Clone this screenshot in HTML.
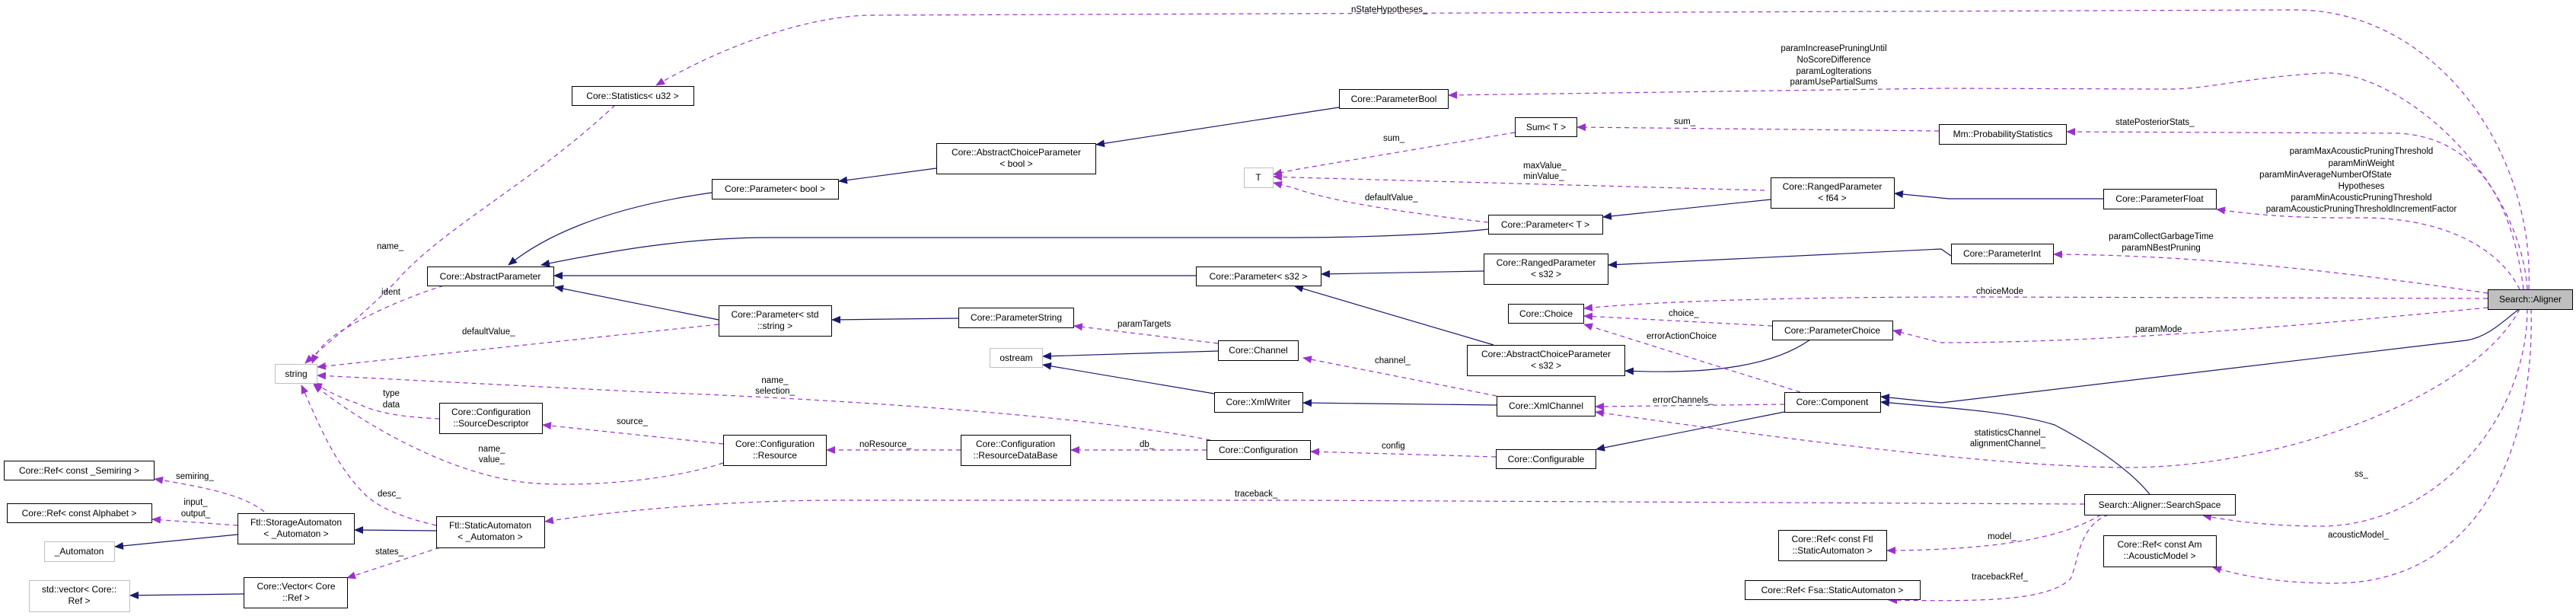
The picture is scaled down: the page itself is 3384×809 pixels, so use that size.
<!DOCTYPE html>
<html><head><meta charset="utf-8"><style>
html,body{margin:0;padding:0;background:#fff;}
svg{display:block;}
text{font-family:"Liberation Sans",Helvetica,Arial,sans-serif;font-size:12px;fill:#000;}
.n{fill:#fff;stroke:#000;stroke-width:1;}
.g{fill:#fff;stroke:#bfbfbf;stroke-width:1;}
.b{fill:none;stroke:#191970;stroke-width:1.2;marker-end:url(#ab);}
.p{fill:none;stroke:#9a32cd;stroke-width:1.2;stroke-dasharray:6,5;marker-end:url(#ap);}
.l{font-size:11.5px;}
</style></head><body>
<svg width="3384" height="809" viewBox="0 0 3384 809" xmlns="http://www.w3.org/2000/svg">
<defs>
<marker id="ab" markerWidth="12" markerHeight="10" refX="11" refY="5" orient="auto" markerUnits="userSpaceOnUse"><path d="M0,0 L12,5 L0,10 z" fill="#191970"/></marker>
<marker id="ap" markerWidth="12" markerHeight="10" refX="11" refY="5" orient="auto" markerUnits="userSpaceOnUse"><path d="M0,0 L12,5 L0,10 z" fill="#9a32cd"/></marker>
</defs>

<!-- blue edges -->
<path class="b" d="M935,253 C850,265 740,290 668,348"/>
<path class="b" d="M1955,301 C1900,307 1800,312 1700,312 L1010,312 C900,312 800,330 711,348"/>
<path class="b" d="M1571,362 L728,362"/>
<path class="b" d="M944,420 L729,377"/>
<path class="b" d="M1230,221 L1102,238"/>
<path class="b" d="M1759,141 L1440,190"/>
<path class="b" d="M2326,262 L2106,285"/>
<path class="b" d="M2763,261 L2560,261 L2489,254"/>
<path class="b" d="M1949,356 L1736,360"/>
<path class="b" d="M2563,336 L2550,327 L2113,348"/>
<path class="b" d="M1962,453 L1701,376"/>
<path class="b" d="M2378,446 C2330,480 2250,492 2135,487"/>
<path class="b" d="M1259,418 L1093,420"/>
<path class="b" d="M1600,461 L1370,468"/>
<path class="b" d="M1595,517 L1370,479"/>
<path class="b" d="M1966,532 L1712,529"/>
<path class="b" d="M2344,541 L2097,590"/>
<path class="b" d="M3308,407 C3290,420 3270,442 3240,447 L2550,529 L2471,521"/>
<path class="b" d="M2824,649 C2800,620 2760,590 2699,558 C2640,540 2560,536 2471,528"/>
<path class="b" d="M312,702 L151,718"/>
<path class="b" d="M573,697 L466,696"/>
<path class="b" d="M320,780 L171,782"/>

<!-- purple edges -->
<path class="p" d="M3322,380 C3330,200 3200,10 3010,13 L1140,20 C1060,22 950,60 862,112"/>
<path class="p" d="M3320,380 C3310,230 3150,90 3050,96 C2950,102 2900,117 2850,117 L2550,116 L1903,125"/>
<path class="p" d="M3315,380 C3300,260 3250,180 3150,175 L2715,173"/>
<path class="p" d="M3310,380 C3280,320 3200,285 3100,286 C3000,287 2950,280 2912,275"/>
<path class="p" d="M3268,385 C3100,360 2900,335 2698,334"/>
<path class="p" d="M3268,392 L2600,390 C2300,390 2150,398 2081,405"/>
<path class="p" d="M3268,404 C3100,420 2800,450 2550,450 L2487,434"/>
<path class="p" d="M3310,406 C3250,520 3000,615 2790,614 C2600,612 2300,570 2096,541"/>
<path class="p" d="M3320,406 C3320,550 3200,690 3050,691 C2980,691 2930,684 2894,677"/>
<path class="p" d="M3325,406 C3330,600 3250,766 3066,766 C2990,766 2940,755 2907,745"/>
<path class="p" d="M2365,515 L2081,426"/>
<path class="p" d="M2328,428 L2081,415"/>
<path class="p" d="M2344,531 L2096,534"/>
<path class="p" d="M1966,520 L1712,470"/>
<path class="p" d="M1965,600 L1722,593"/>
<path class="p" d="M1585,591 L1407,591"/>
<path class="p" d="M1262,591 L1086,591"/>
<path class="p" d="M950,583 L713,558"/>
<path class="p" d="M950,608 C900,625 800,640 705,635 C600,628 480,560 412,505"/>
<path class="p" d="M1590,578 C1400,540 1000,520 850,515 L417,493"/>
<path class="p" d="M944,426 L417,482"/>
<path class="p" d="M577,550 C540,548 500,545 470,530 C440,520 425,510 412,503"/>
<path class="p" d="M573,690 C530,680 500,668 480,650 C440,610 420,560 396,506"/>
<path class="p" d="M583,375 C520,395 470,420 440,440 C420,455 415,465 410,477"/>
<path class="p" d="M808,138 C700,240 580,300 520,370 C470,420 430,450 401,477"/>
<path class="p" d="M347,672 C320,650 270,640 203,629"/>
<path class="p" d="M312,690 L200,682"/>
<path class="p" d="M578,719 L456,759"/>
<path class="p" d="M2738,662 L1700,657 L1100,657 C950,657 800,672 716,685"/>
<path class="p" d="M2760,676 C2720,700 2650,722 2479,723"/>
<path class="p" d="M2770,676 C2730,690 2730,740 2720,760 C2690,790 2600,790 2481,788"/>
<path class="p" d="M1600,451 L1411,428"/>
<path class="p" d="M2318,250 L1700,233 L1673,232"/>
<path class="p" d="M1990,174 L1700,223 L1673,229"/>
<path class="p" d="M1955,292 C1850,280 1750,265 1700,247 L1673,240"/>
<path class="p" d="M2547,172 L2072,167"/>

<!-- edge labels -->
<g class="lbl">
<text class="l" x="1775" y="16">nStateHypotheses_</text>
<text class="l" x="2409" y="67" text-anchor="middle">paramIncreasePruningUntil</text>
<text class="l" x="2409" y="82" text-anchor="middle">NoScoreDifference</text>
<text class="l" x="2409" y="97" text-anchor="middle">paramLogIterations</text>
<text class="l" x="2409" y="111" text-anchor="middle">paramUsePartialSums</text>
<text class="l" x="2779" y="164">statePosteriorStats_</text>
<text class="l" x="3102" y="202" text-anchor="middle">paramMaxAcousticPruningThreshold</text>
<text class="l" x="3102" y="218" text-anchor="middle">paramMinWeight</text>
<text class="l" x="3055" y="233" text-anchor="middle">paramMinAverageNumberOfState</text>
<text class="l" x="3102" y="248" text-anchor="middle">Hypotheses</text>
<text class="l" x="3102" y="263" text-anchor="middle">paramMinAcousticPruningThreshold</text>
<text class="l" x="3102" y="278" text-anchor="middle">paramAcousticPruningThresholdIncrementFactor</text>
<text class="l" x="2839" y="314" text-anchor="middle">paramCollectGarbageTime</text>
<text class="l" x="2839" y="329" text-anchor="middle">paramNBestPruning</text>
<text class="l" x="2596" y="386">choiceMode</text>
<text class="l" x="2805" y="436">paramMode</text>
<text class="l" x="2687" y="572" text-anchor="end">statisticsChannel_</text>
<text class="l" x="2687" y="586" text-anchor="end">alignmentChannel_</text>
<text class="l" x="3093" y="626">ss_</text>
<text class="l" x="3058" y="706">acousticModel_</text>
<text class="l" x="2611" y="708">model_</text>
<text class="l" x="2590" y="761">tracebackRef_</text>
<text class="l" x="2199" y="163">sum_</text>
<text class="l" x="1817" y="185">sum_</text>
<text class="l" x="2001" y="221">maxValue_</text>
<text class="l" x="2001" y="235">minValue_</text>
<text class="l" x="1793" y="263">defaultValue_</text>
<text class="l" x="2192" y="415">choice_</text>
<text class="l" x="2163" y="445">errorActionChoice</text>
<text class="l" x="1806" y="477">channel_</text>
<text class="l" x="2171" y="529">errorChannels_</text>
<text class="l" x="1815" y="589">config</text>
<text class="l" x="1468" y="429">paramTargets</text>
<text class="l" x="1018" y="503" text-anchor="middle">name_</text>
<text class="l" x="1018" y="517" text-anchor="middle">selection_</text>
<text class="l" x="1129" y="587">noResource_</text>
<text class="l" x="1497" y="587">db_</text>
<text class="l" x="1622" y="652">traceback_</text>
<text class="l" x="495" y="327">name_</text>
<text class="l" x="501" y="387">ident</text>
<text class="l" x="607" y="439">defaultValue_</text>
<text class="l" x="514" y="520" text-anchor="middle">type</text>
<text class="l" x="514" y="535" text-anchor="middle">data</text>
<text class="l" x="810" y="557">source_</text>
<text class="l" x="646" y="593" text-anchor="middle">name_</text>
<text class="l" x="646" y="607" text-anchor="middle">value_</text>
<text class="l" x="231" y="629">semiring_</text>
<text class="l" x="257" y="663" text-anchor="middle">input_</text>
<text class="l" x="257" y="678" text-anchor="middle">output_</text>
<text class="l" x="496" y="652">desc_</text>
<text class="l" x="493" y="728">states_</text>
</g>

<!-- nodes -->
<g>
<rect class="n" x="751.5" y="113.5" width="160" height="25"/><text x="831" y="130" text-anchor="middle">Core::Statistics&lt; u32 &gt;</text>
<rect class="n" x="1759.5" y="117.5" width="143" height="25"/><text x="1831" y="134" text-anchor="middle">Core::ParameterBool</text>
<rect class="n" x="1230.5" y="188.5" width="209" height="40"/><text x="1335" y="204" text-anchor="middle">Core::AbstractChoiceParameter</text><text x="1335" y="219" text-anchor="middle">&lt; bool &gt;</text>
<rect class="n" x="935.5" y="235.5" width="166" height="26"/><text x="1018" y="252" text-anchor="middle">Core::Parameter&lt; bool &gt;</text>
<rect class="g" x="1634.5" y="220.5" width="38" height="26"/><text x="1653" y="237" text-anchor="middle">T</text>
<rect class="n" x="1990.5" y="154.5" width="81" height="25"/><text x="2031" y="171" text-anchor="middle">Sum&lt; T &gt;</text>
<rect class="n" x="2547.5" y="163.5" width="167" height="26"/><text x="2631" y="180" text-anchor="middle">Mm::ProbabilityStatistics</text>
<rect class="n" x="2326.5" y="233.5" width="162" height="40"/><text x="2407" y="249" text-anchor="middle">Core::RangedParameter</text><text x="2407" y="264" text-anchor="middle">&lt; f64 &gt;</text>
<rect class="n" x="2763.5" y="248.5" width="148" height="26"/><text x="2837" y="265" text-anchor="middle">Core::ParameterFloat</text>
<rect class="n" x="1955.5" y="282.5" width="150" height="25"/><text x="2030" y="299" text-anchor="middle">Core::Parameter&lt; T &gt;</text>
<rect class="n" x="2563.5" y="320.5" width="134" height="26"/><text x="2630" y="337" text-anchor="middle">Core::ParameterInt</text>
<rect class="n" x="561.5" y="350.5" width="166" height="25"/><text x="644" y="367" text-anchor="middle">Core::AbstractParameter</text>
<rect class="n" x="1571.5" y="350.5" width="164" height="25"/><text x="1653" y="367" text-anchor="middle">Core::Parameter&lt; s32 &gt;</text>
<rect class="n" x="1949.5" y="333.5" width="163" height="40"/><text x="2031" y="349" text-anchor="middle">Core::RangedParameter</text><text x="2031" y="364" text-anchor="middle">&lt; s32 &gt;</text>
<rect x="3268.5" y="380.5" width="111" height="26" fill="#bfbfbf" stroke="#000"/><text x="3324" y="397" text-anchor="middle">Search::Aligner</text>
<rect class="n" x="1981.5" y="399.5" width="99" height="25"/><text x="2031" y="416" text-anchor="middle">Core::Choice</text>
<rect class="n" x="2328.5" y="421.5" width="158" height="25"/><text x="2407" y="438" text-anchor="middle">Core::ParameterChoice</text>
<rect class="n" x="944.5" y="401.5" width="148" height="40"/><text x="1018" y="417" text-anchor="middle">Core::Parameter&lt; std</text><text x="1018" y="432" text-anchor="middle">::string &gt;</text>
<rect class="n" x="1259.5" y="404.5" width="151" height="26"/><text x="1335" y="421" text-anchor="middle">Core::ParameterString</text>
<rect class="n" x="1600.5" y="447.5" width="105" height="26"/><text x="1653" y="464" text-anchor="middle">Core::Channel</text>
<rect class="n" x="1927.5" y="453.5" width="207" height="40"/><text x="2031" y="469" text-anchor="middle">Core::AbstractChoiceParameter</text><text x="2031" y="484" text-anchor="middle">&lt; s32 &gt;</text>
<rect class="g" x="1300.5" y="457.5" width="69" height="25"/><text x="1335" y="474" text-anchor="middle">ostream</text>
<rect class="g" x="361.5" y="478.5" width="55" height="25"/><text x="389" y="495" text-anchor="middle">string</text>
<rect class="n" x="1595.5" y="515.5" width="116" height="26"/><text x="1653" y="532" text-anchor="middle">Core::XmlWriter</text>
<rect class="n" x="2344.5" y="515.5" width="126" height="26"/><text x="2407" y="532" text-anchor="middle">Core::Component</text>
<rect class="n" x="1966.5" y="520.5" width="129" height="26"/><text x="2031" y="537" text-anchor="middle">Core::XmlChannel</text>
<rect class="n" x="577.5" y="529.5" width="135" height="40"/><text x="645" y="545" text-anchor="middle">Core::Configuration</text><text x="645" y="560" text-anchor="middle">::SourceDescriptor</text>
<rect class="n" x="950.5" y="571.5" width="135" height="40"/><text x="1018" y="587" text-anchor="middle">Core::Configuration</text><text x="1018" y="602" text-anchor="middle">::Resource</text>
<rect class="n" x="1262.5" y="571.5" width="144" height="40"/><text x="1334" y="587" text-anchor="middle">Core::Configuration</text><text x="1334" y="602" text-anchor="middle">::ResourceDataBase</text>
<rect class="n" x="1585.5" y="578.5" width="136" height="25"/><text x="1653" y="595" text-anchor="middle">Core::Configuration</text>
<rect class="n" x="1965.5" y="590.5" width="131" height="25"/><text x="2031" y="607" text-anchor="middle">Core::Configurable</text>
<rect class="n" x="5.5" y="605.5" width="197" height="25"/><text x="104" y="622" text-anchor="middle">Core::Ref&lt; const _Semiring &gt;</text>
<rect class="n" x="2738.5" y="649.5" width="198" height="27"/><text x="2837" y="667" text-anchor="middle">Search::Aligner::SearchSpace</text>
<rect class="n" x="9.5" y="661.5" width="190" height="25"/><text x="104" y="678" text-anchor="middle">Core::Ref&lt; const Alphabet &gt;</text>
<rect class="n" x="312.5" y="674.5" width="153" height="40"/><text x="389" y="690" text-anchor="middle">Ftl::StorageAutomaton</text><text x="389" y="705" text-anchor="middle">&lt; _Automaton &gt;</text>
<rect class="n" x="573.5" y="678.5" width="142" height="41"/><text x="644" y="694" text-anchor="middle">Ftl::StaticAutomaton</text><text x="644" y="709" text-anchor="middle">&lt; _Automaton &gt;</text>
<rect class="n" x="2336.5" y="696.5" width="142" height="40"/><text x="2407" y="712" text-anchor="middle">Core::Ref&lt; const Ftl</text><text x="2407" y="727" text-anchor="middle">::StaticAutomaton &gt;</text>
<rect class="n" x="2763.5" y="703.5" width="148" height="41"/><text x="2837" y="719" text-anchor="middle">Core::Ref&lt; const Am</text><text x="2837" y="734" text-anchor="middle">::AcousticModel &gt;</text>
<rect class="g" x="58.5" y="711.5" width="92" height="26"/><text x="104" y="728" text-anchor="middle">_Automaton</text>
<rect class="n" x="320.5" y="758.5" width="136" height="40"/><text x="389" y="774" text-anchor="middle">Core::Vector&lt; Core</text><text x="389" y="789" text-anchor="middle">::Ref &gt;</text>
<rect class="g" x="38.5" y="762.5" width="132" height="41"/><text x="104" y="778" text-anchor="middle">std::vector&lt; Core::</text><text x="104" y="793" text-anchor="middle">Ref &gt;</text>
<rect class="n" x="2292.5" y="762.5" width="230" height="25"/><text x="2407" y="779" text-anchor="middle">Core::Ref&lt; Fsa::StaticAutomaton &gt;</text>
</g>
</svg>
</body></html>
